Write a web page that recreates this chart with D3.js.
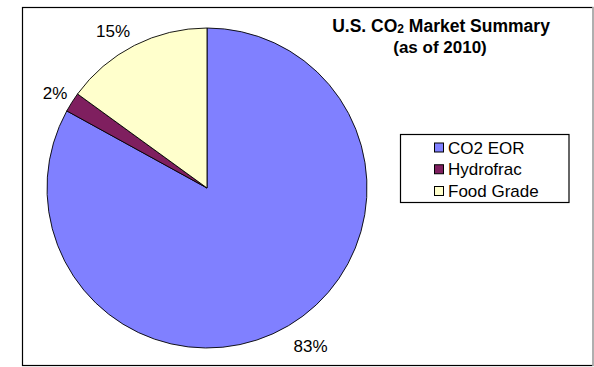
<!DOCTYPE html>
<html>
<head>
<meta charset="utf-8">
<script src="https://cdn.jsdelivr.net/npm/d3@7"></script>
<style>
  html, body { margin: 0; padding: 0; background: #fff; }
  svg { display: block; font-family: "Liberation Sans", Arial, sans-serif; }
</style>
</head>
<body>
<svg id="chart" width="594" height="367"></svg>
<script>
// Market share by CO2 end use
const categories = ["CO2 EOR", "Hydrofrac", "Food Grade"];
const shares = [83, 2, 15];
const sliceColors = ["#8080FF", "#7F1F5F", "#FFFFCC"];
const titleLines = ["U.S. CO", "(as of 2010)"];

const svg = d3.select("#chart");

// Outer chart frame
svg.append("rect")
  .attr("x", 22.5).attr("y", 7.5)
  .attr("width", 570.5).attr("height", 358)
  .attr("fill", "#fff").attr("stroke", "#000").attr("stroke-width", 1.2);
svg.append("line")
  .attr("x1", 593).attr("x2", 593).attr("y1", 7).attr("y2", 366)
  .attr("stroke", "#c8c8c8").attr("stroke-width", 1.5);

const cx = 207, cy = 188, r = 160;
const data = categories.map((c, i) => ({ name: c, value: shares[i] }));
const color = d3.scaleOrdinal().domain(categories).range(sliceColors);

const pie = d3.pie().sort(null).value(d => d.value);
const arcs = pie(data);
const arc = d3.arc().innerRadius(0).outerRadius(r);

const g = svg.append("g").attr("transform", `translate(${cx},${cy})`);
g.selectAll("path.slice")
  .data(arcs)
  .join("path")
  .attr("class", "slice")
  .attr("d", arc)
  .attr("fill", d => color(d.data.name))
  .attr("stroke", "#000")
  .attr("stroke-width", 0.9)
  .attr("stroke-linejoin", "round");

// Percentage label anchor points, just outside each slice
const labelPos = {
  "CO2 EOR": [310.5, 352],
  "Hydrofrac": [55, 99],
  "Food Grade": [113, 37]
};
const total = d3.sum(shares);

g.selectAll("text.pct")
  .data(arcs)
  .join("text")
  .attr("class", "pct")
  .attr("transform", d => {
    const [x, y] = labelPos[d.data.name];
    return `translate(${x - cx},${y - cy})`;
  })
  .attr("text-anchor", "middle")
  .attr("font-size", 17)
  .attr("fill", "#000")
  .text(d => Math.round(d.data.value / total * 100) + "%");

// Title with subscript
const title = svg.append("text")
  .attr("x", 441).attr("y", 32)
  .attr("text-anchor", "middle")
  .attr("font-size", 17.5).attr("font-weight", "bold");
title.append("tspan").text(titleLines[0]);
title.append("tspan").attr("font-size", 12).attr("dy", 0.5).text("2");
title.append("tspan").attr("dy", -0.5).text(" Market Summary");

svg.append("text")
  .attr("x", 440).attr("y", 53)
  .attr("text-anchor", "middle")
  .attr("font-size", 17).attr("font-weight", "bold")
  .text(titleLines[1]);

// Legend
const legend = svg.append("g");
legend.append("rect")
  .attr("x", 400.5).attr("y", 134.5)
  .attr("width", 168.5).attr("height", 68)
  .attr("fill", "#fff").attr("stroke", "#000").attr("stroke-width", 1.2);

const rowY = d3.scalePoint().domain(categories).range([147.5, 191]);
const items = legend.selectAll("g.item")
  .data(categories)
  .join("g")
  .attr("class", "item")
  .attr("transform", d => `translate(0,${rowY(d)})`);
items.append("rect")
  .attr("x", 434.5).attr("y", -4.5)
  .attr("width", 9).attr("height", 9)
  .attr("fill", d => color(d))
  .attr("stroke", "#000").attr("stroke-width", 1);
items.append("text")
  .attr("x", 448).attr("y", 6)
  .attr("font-size", 17)
  .attr("fill", "#000")
  .text(d => d);
</script>
</body>
</html>
